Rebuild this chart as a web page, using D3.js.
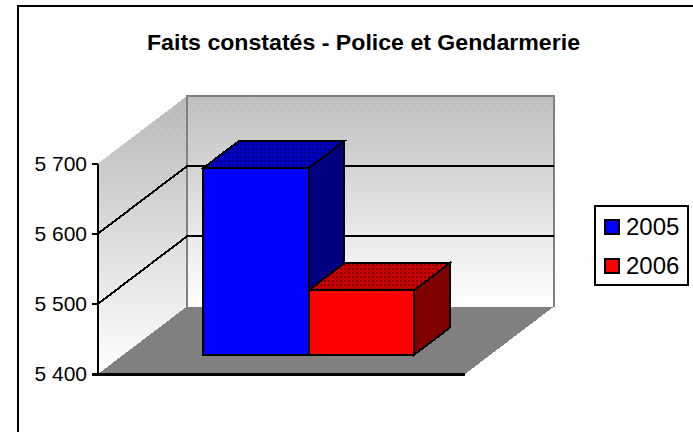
<!DOCTYPE html>
<html><head><meta charset="utf-8">
<script src="https://cdn.jsdelivr.net/npm/d3@7/dist/d3.min.js"></script>
<style>html,body{margin:0;padding:0;background:#fff;overflow:hidden}svg{display:block;shape-rendering:crispEdges}text{font-family:"Liberation Sans",Arial,sans-serif;fill:#000}</style>
</head><body><svg id="c" width="693" height="432"></svg>
<script>
const title = "Faits constatés - Police et Gendarmerie";
const seriesNames = ["2005","2006"];
const seriesValues = [5666,5492];
const seriesColors = ["#0000ff","#ff0000"];
const topColors = ["#0000c0","#c80000"];
const sideColors = ["#000080","#800000"];
const yTicks = [5400,5500,5600,5700];

const svg = d3.select("#c");
const defs = svg.append("defs");
const wall = defs.append("linearGradient").attr("id","wallB").attr("x1",0).attr("x2",0).attr("y1",0).attr("y2",1);
wall.append("stop").attr("offset",0).attr("stop-color","#bebebe");
wall.append("stop").attr("offset",1).attr("stop-color","#ffffff");
const wallS = defs.append("linearGradient").attr("id","wallS").attr("gradientUnits","userSpaceOnUse").attr("x1",0).attr("x2",0).attr("y1",97).attr("y2",374);
wallS.append("stop").attr("offset",0).attr("stop-color","#b8b8b8");
wallS.append("stop").attr("offset",1).attr("stop-color","#ffffff");
seriesNames.forEach((s,i)=>{
  const p = defs.append("pattern").attr("id","dot"+i).attr("width",4).attr("height",4).attr("patternUnits","userSpaceOnUse");
  p.append("rect").attr("width",4).attr("height",4).attr("fill",topColors[i]);
  p.append("rect").attr("width",2).attr("height",2).attr("fill",sideColors[i]);
});
const px = defs.append("pattern").attr("id","dither").attr("width",8).attr("height",8).attr("patternUnits","userSpaceOnUse");
[[0,0],[4,4]].forEach(d=>px.append("rect").attr("x",d[0]).attr("y",d[1]).attr("width",2).attr("height",2).attr("fill","#fff").attr("opacity",0.12));

// frame
svg.append("path").attr("d","M18,432V6H693").attr("fill","none").attr("stroke","#000").attr("stroke-width",2);
svg.append("text").attr("x",363.5).attr("y",50).attr("text-anchor","middle").attr("font-size",22.5).attr("font-weight","bold")
  .attr("textLength",433).attr("lengthAdjust","spacingAndGlyphs").text(title);

// projection
const y = d3.scaleLinear().domain([5400,5700]).range([374,163.5]);
const x0 = 98, x1 = 465, depthX = 89, depthY = -67.5;
const proj = (xp,v,d)=>[xp + depthX*d, y(v) + depthY*d];
const line = d3.line();
const poly = pts => line(pts)+"Z";
const floor = [proj(x0,5400,0),proj(x1,5400,0),proj(x1,5400,1),proj(x0,5400,1)];
const back = [proj(x0,5700,1),proj(x1,5700,1),proj(x1,5400,1),proj(x0,5400,1)];
const side = [proj(x0,5700,0),proj(x0,5700,1),proj(x0,5400,1),proj(x0,5400,0)];

["url(#wallB)","url(#dither)"].forEach(f=>svg.append("path").attr("d",poly(back)).attr("fill",f));
["url(#wallS)","url(#dither)"].forEach(f=>svg.append("path").attr("d",poly(side)).attr("fill",f));
svg.append("path").attr("d",poly(floor)).attr("fill","#808080");
svg.append("path").attr("d",line([proj(x0,5400,1),proj(x0,5700,1),proj(x1,5700,1),proj(x1,5400,1)])).attr("fill","none").attr("stroke","#808080").attr("stroke-width",2);

// gridlines
yTicks.filter(t=>t>5400&&t<5700).forEach(t=>{
  svg.append("path").attr("d",line([proj(x0,t,0),proj(x0,t,1),proj(x1,t,1)])).attr("fill","none").attr("stroke","#000").attr("stroke-width",2);
});
// axes
const axis = svg.append("g").attr("transform",`translate(${x0},0)`)
  .call(d3.axisLeft(y).tickValues(yTicks).tickSize(6).tickPadding(5).tickFormat(d=>d3.format(",")(d).replace(","," ")));
axis.selectAll("path,line").attr("stroke","#000").attr("stroke-width",2);
axis.select(".domain").attr("d","M0,163.5V374");
axis.selectAll("text").attr("font-size",21).attr("font-family","Liberation Sans").attr("fill","#000");
svg.append("path").attr("d",line([proj(x0-6,5400,0),proj(x1,5400,0)])).attr("stroke","#000").attr("stroke-width",3);

// bars
const d0 = 0.2836, dBack = 0.687;
const xB = d3.scaleBand().domain(seriesNames).range([x0+105-25.2,x0+105-25.2+211]).padding(0);
seriesNames.forEach((s,i)=>{
  const xa = xB(s), xb = xa + xB.bandwidth(), v = seriesValues[i];
  const A = proj(xa,v,d0),B = proj(xb,v,d0),C = proj(xb,5400,d0),D = proj(xa,5400,d0);
  const A2 = proj(xa,v,dBack),B2 = proj(xb,v,dBack),C2 = proj(xb,5400,dBack);
  const g = svg.append("g").attr("stroke","#000").attr("stroke-width",2);
  g.append("path").attr("d",poly([B,B2,C2,C])).attr("fill",sideColors[i]);
  g.append("path").attr("d",poly([A,A2,B2,B])).attr("fill",`url(#dot${i})`);
  g.append("path").attr("d",poly([A,B,C,D])).attr("fill",seriesColors[i]);
});

// legend
const lg = svg.append("g");
lg.append("rect").attr("x",595).attr("y",206).attr("width",93).attr("height",79).attr("fill","#fff").attr("stroke","#000").attr("stroke-width",2);
const ly = d3.scalePoint().domain(seriesNames).range([227,266]);
seriesNames.forEach((s,i)=>{
  lg.append("rect").attr("x",605).attr("y",ly(s)-7).attr("width",14).attr("height",14).attr("fill",seriesColors[i]).attr("stroke","#000").attr("stroke-width",1.5);
  lg.append("text").attr("x",626).attr("y",ly(s)+8).attr("font-size",24).text(s);
});
</script></body></html>
